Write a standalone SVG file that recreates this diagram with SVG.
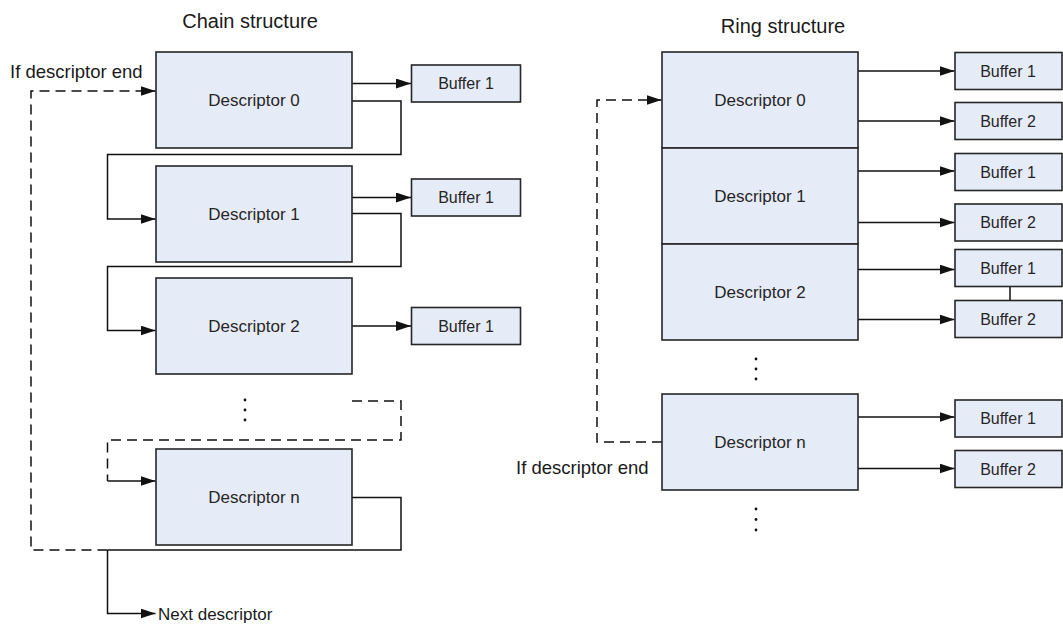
<svg xmlns="http://www.w3.org/2000/svg" width="1063" height="625" viewBox="0 0 1063 625">
<style>
  .box { fill: #E6ECF7; stroke: #262626; stroke-width: 1.6; }
  .t { font-family: "Liberation Sans", Arial, sans-serif; fill: #262626; text-anchor: middle; dominant-baseline: central; }
  .desc { font-size: 17px; }
  .buf { font-size: 16px; }
  .lbl { font-family: "Liberation Sans", Arial, sans-serif; fill: #1a1a1a; font-size: 18.5px; }
  .title { font-family: "Liberation Sans", Arial, sans-serif; fill: #1a1a1a; font-size: 20px; text-anchor: middle; }
  .ln { fill: none; stroke: #111; stroke-width: 1.5; }
  .dash { stroke-dasharray: 10 6; }
  .dot { fill: #111; }
</style>
<defs>
  <marker id="ah" markerUnits="userSpaceOnUse" markerWidth="16" markerHeight="10" refX="15" refY="5" orient="auto">
    <path d="M0,0 L15,5 L0,10 Z" fill="#111"/>
  </marker>
</defs>
<rect width="1063" height="625" fill="#fff"/>

<text class="title" x="250" y="28">Chain structure</text>
<text class="title" x="783" y="33">Ring structure</text>

<g id="connectors">
  <path class="ln" d="M352,83.5 H411" marker-end="url(#ah)"/>
  <path class="ln" d="M352,101 H401 V154.5 H107.5 V219 H155.5" marker-end="url(#ah)"/>
  <path class="ln" d="M352,197.5 H411" marker-end="url(#ah)"/>
  <path class="ln" d="M352,213.5 H401 V266.5 H107.5 V330.5 H155.5" marker-end="url(#ah)"/>
  <path class="ln" d="M352,326 H411" marker-end="url(#ah)"/>
  <path class="ln dash" d="M352,401 H401 V440 H107.5 V481"/>
  <path class="ln" d="M107.5,481 H155.5" marker-end="url(#ah)"/>
  <path class="ln" d="M352,497.5 H401 V550 H107.5"/>
  <path class="ln dash" d="M107.5,550 H31 V91 H155.5" marker-end="url(#ah)"/>
  <path class="ln" d="M107.5,550 V613.5 H155.5" marker-end="url(#ah)"/>

  <path class="ln" d="M858,71 H954.5" marker-end="url(#ah)"/>
  <path class="ln" d="M858,121 H954.5" marker-end="url(#ah)"/>
  <path class="ln" d="M858,171 H954.5" marker-end="url(#ah)"/>
  <path class="ln" d="M858,222.5 H954.5" marker-end="url(#ah)"/>
  <path class="ln" d="M858,269.5 H954.5" marker-end="url(#ah)"/>
  <path class="ln" d="M858,319.5 H954.5" marker-end="url(#ah)"/>
  <path class="ln" d="M858,417 H954.5" marker-end="url(#ah)"/>
  <path class="ln" d="M858,468.5 H954.5" marker-end="url(#ah)"/>
  <path class="ln" d="M1010,286.5 V300.5"/>
  <path class="ln dash" d="M662,442 H597 V100 H661.5" marker-end="url(#ah)"/>
</g>

<g id="chain-desc0"><rect class="box" x="156" y="52" width="196" height="96"/><text class="t desc" x="254" y="100">Descriptor 0</text></g>
<g id="chain-buf0"><rect class="box" x="411.5" y="65" width="109" height="37"/><text class="t buf" x="466" y="83.5">Buffer 1</text></g>
<g id="chain-desc1"><rect class="box" x="156" y="166" width="196" height="96"/><text class="t desc" x="254" y="214">Descriptor 1</text></g>
<g id="chain-buf1"><rect class="box" x="411.5" y="179" width="109" height="37"/><text class="t buf" x="466" y="197.5">Buffer 1</text></g>
<g id="chain-desc2"><rect class="box" x="156" y="278" width="196" height="96"/><text class="t desc" x="254" y="326">Descriptor 2</text></g>
<g id="chain-buf2"><rect class="box" x="411.5" y="307.5" width="109" height="37"/><text class="t buf" x="466" y="326">Buffer 1</text></g>
<g id="chain-dots"><circle class="dot" cx="245" cy="400" r="1.4"/><circle class="dot" cx="245" cy="410" r="1.4"/><circle class="dot" cx="245" cy="420" r="1.4"/></g>
<g id="chain-descn"><rect class="box" x="156" y="449" width="196" height="96"/><text class="t desc" x="254" y="497">Descriptor n</text></g>
<g id="chain-label-end"><text class="lbl" x="10" y="78">If descriptor end</text></g>
<g id="chain-next"><text class="lbl" x="158" y="619.5" style="font-size:17px">Next descriptor</text></g>

<g id="ring-desc0"><rect class="box" x="662" y="52" width="196" height="96"/><text class="t desc" x="760" y="100">Descriptor 0</text></g>
<g id="ring-desc1"><rect class="box" x="662" y="148" width="196" height="96"/><text class="t desc" x="760" y="196">Descriptor 1</text></g>
<g id="ring-desc2"><rect class="box" x="662" y="244" width="196" height="96"/><text class="t desc" x="760" y="292">Descriptor 2</text></g>
<g id="ring-dots1"><circle class="dot" cx="756" cy="359" r="1.4"/><circle class="dot" cx="756" cy="369" r="1.4"/><circle class="dot" cx="756" cy="379" r="1.4"/></g>
<g id="ring-descn"><rect class="box" x="662" y="394" width="196" height="96"/><text class="t desc" x="760" y="442">Descriptor n</text></g>
<g id="ring-dots2"><circle class="dot" cx="756" cy="509" r="1.4"/><circle class="dot" cx="756" cy="519.5" r="1.4"/><circle class="dot" cx="756" cy="530" r="1.4"/></g>
<g id="ring-label-end"><text class="lbl" x="516" y="474">If descriptor end</text></g>

<g id="ring-b0-1"><rect class="box" x="955" y="52.5" width="107" height="37"/><text class="t buf" x="1008" y="71">Buffer 1</text></g>
<g id="ring-b0-2"><rect class="box" x="955" y="102.5" width="107" height="37"/><text class="t buf" x="1008" y="121">Buffer 2</text></g>
<g id="ring-b1-1"><rect class="box" x="955" y="153.5" width="107" height="37"/><text class="t buf" x="1008" y="172">Buffer 1</text></g>
<g id="ring-b1-2"><rect class="box" x="955" y="204" width="107" height="37"/><text class="t buf" x="1008" y="222.5">Buffer 2</text></g>
<g id="ring-b2-1"><rect class="box" x="955" y="249.5" width="107" height="37"/><text class="t buf" x="1008" y="268">Buffer 1</text></g>
<g id="ring-b2-2"><rect class="box" x="955" y="300.5" width="107" height="37"/><text class="t buf" x="1008" y="319">Buffer 2</text></g>
<g id="ring-bn-1"><rect class="box" x="955" y="400" width="107" height="37"/><text class="t buf" x="1008" y="418.5">Buffer 1</text></g>
<g id="ring-bn-2"><rect class="box" x="955" y="450.5" width="107" height="37"/><text class="t buf" x="1008" y="469">Buffer 2</text></g>
</svg>
